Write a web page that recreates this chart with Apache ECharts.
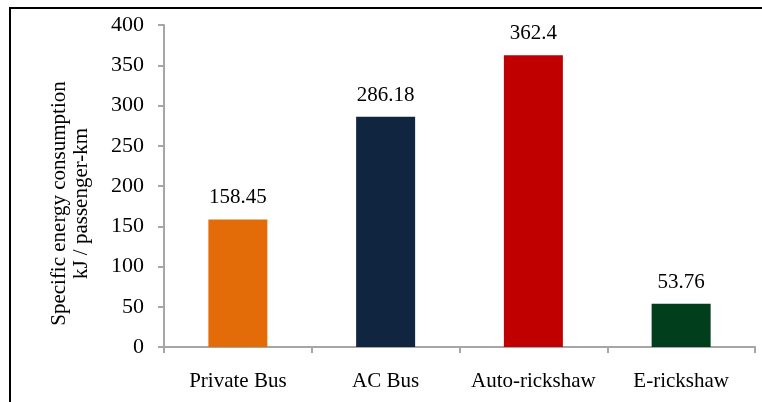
<!DOCTYPE html>
<html>
<head>
<meta charset="utf-8">
<script src="https://cdn.jsdelivr.net/npm/echarts@6/dist/echarts.min.js"></script>
<style>
  html, body { margin: 0; padding: 0; background: #fff; }
  #frame { position: absolute; left: 9px; top: 7px; width: 760px; height: 400px;
    border-left: 2px solid #000; border-top: 2px solid #000; }
  #chart { width: 762px; height: 402px; position: absolute; left: 0; top: 0; }
</style>
</head>
<body>
<div id="frame"></div>
<div id="chart"></div>
<script>
const categories = ['Private Bus', 'AC Bus', 'Auto-rickshaw', 'E-rickshaw']
const values = [158.45, 286.18, 362.4, 53.76]
const barColors = ['#E36C09', '#10253F', '#C00000', '#003E1C']
const yName = 'Specific energy consumption\nkJ / passenger-km'

const chart = echarts.init(document.getElementById('chart'))
const font = '"Liberation Serif", "Times New Roman", serif'
const axisGray = '#A6A6A6'

chart.setOption({
  animation: false,
  textStyle: { fontFamily: font },
  grid: { left: 164, right: 7, top: 25, bottom: 55 },
  xAxis: {
    type: 'category',
    data: categories,
    axisLine: { lineStyle: { color: axisGray, width: 2 } },
    axisTick: { show: true, interval: 0, length: 6, lineStyle: { color: axisGray, width: 2 } },
    axisLabel: { color: '#000', fontSize: 21, fontFamily: font, margin: 24, interval: 0 }
  },
  yAxis: {
    type: 'value',
    min: 0,
    max: 400,
    interval: 50,
    name: yName,
    nameLocation: 'middle',
    nameGap: 72,
    nameTextStyle: {
      color: '#000', fontSize: 21, fontFamily: font, lineHeight: 22,
      padding: [0, 35, 0, 0]
    },
    axisLine: { show: true, lineStyle: { color: axisGray, width: 2 } },
    axisTick: { show: true, length: 6, lineStyle: { color: axisGray, width: 2 } },
    axisLabel: { color: '#000', fontSize: 22, fontFamily: font, margin: 20 },
    splitLine: { show: false }
  },
  series: [{
    type: 'bar',
    barWidth: 59,
    data: values.map((v, i) => ({ value: v, itemStyle: { color: barColors[i] } })),
    label: {
      show: true,
      position: 'top',
      distance: 11,
      color: '#000',
      fontSize: 21,
      fontFamily: font
    }
  }]
})
</script>
</body>
</html>
